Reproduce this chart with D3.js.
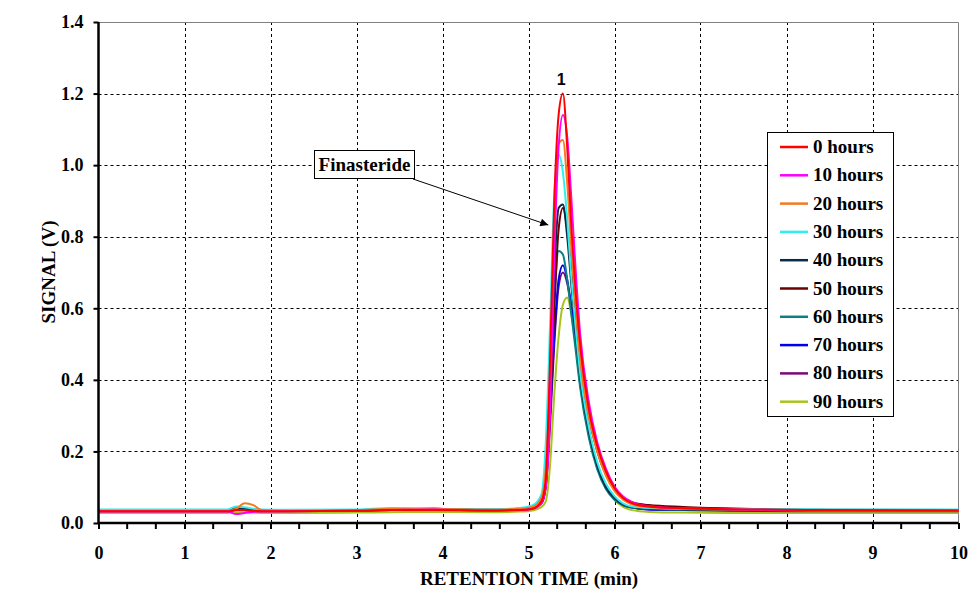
<!DOCTYPE html>
<html><head><meta charset="utf-8">
<script src="https://cdn.jsdelivr.net/npm/d3@7"></script>
<style>body{margin:0;background:#fff}svg{display:block}
svg text{font-family:"Liberation Serif","Times New Roman",serif;font-weight:bold;}
svg text.sans{font-family:"Liberation Sans",Arial,sans-serif;}
</style>
</head><body>
<svg id="c" width="977" height="601"></svg>
<script>
const times = [0, 1.5, 1.6, 1.7, 1.8, 1.9, 2.2, 3.0, 3.4, 3.9, 4.5, 4.9, 5.05, 5.15, 5.2, 5.25, 5.3, 5.35, 5.4, 5.45, 5.5, 5.55, 5.6, 5.7, 5.8, 5.9, 6.0, 6.1, 6.2, 6.4, 6.8, 7.5, 8.5, 10];
const seriesNames = ["0 hours","10 hours","20 hours","30 hours","40 hours","50 hours","60 hours","70 hours","80 hours","90 hours"];
const s0  = [0.033,0.033,0.036,0.036,0.034,0.033,0.033,0.034,0.036,0.036,0.035,0.036,0.040,0.060,0.120,0.450,0.900,1.140,1.200,1.050,0.820,0.640,0.500,0.320,0.215,0.145,0.098,0.070,0.056,0.046,0.041,0.038,0.036,0.035];
const s10 = [0.032,0.032,0.025,0.028,0.031,0.032,0.033,0.034,0.036,0.038,0.035,0.036,0.040,0.055,0.100,0.300,0.750,1.050,1.140,1.080,0.900,0.700,0.530,0.340,0.225,0.152,0.102,0.074,0.059,0.047,0.041,0.038,0.035,0.035];
const s20 = [0.034,0.034,0.040,0.055,0.050,0.036,0.034,0.036,0.040,0.040,0.037,0.040,0.045,0.070,0.150,0.400,0.850,1.060,1.070,0.950,0.760,0.600,0.460,0.300,0.200,0.132,0.090,0.065,0.052,0.044,0.040,0.037,0.035,0.035];
const s30 = [0.038,0.038,0.046,0.044,0.040,0.038,0.037,0.038,0.042,0.040,0.038,0.042,0.050,0.080,0.220,0.550,0.920,1.030,0.980,0.850,0.680,0.540,0.420,0.270,0.170,0.110,0.075,0.055,0.046,0.042,0.040,0.039,0.038,0.038];
const s40 = [0.036,0.036,0.040,0.040,0.037,0.036,0.036,0.036,0.038,0.040,0.037,0.040,0.045,0.060,0.150,0.380,0.700,0.880,0.890,0.800,0.660,0.530,0.410,0.260,0.160,0.100,0.070,0.052,0.045,0.040,0.038,0.037,0.036,0.036];
const s50 = [0.035,0.035,0.038,0.038,0.036,0.035,0.035,0.036,0.038,0.040,0.037,0.040,0.044,0.055,0.100,0.300,0.600,0.820,0.880,0.820,0.700,0.570,0.460,0.300,0.200,0.135,0.095,0.070,0.058,0.050,0.045,0.040,0.037,0.036];
const s60 = [0.035,0.035,0.042,0.040,0.037,0.035,0.035,0.036,0.038,0.039,0.036,0.040,0.045,0.070,0.170,0.380,0.620,0.760,0.750,0.680,0.580,0.480,0.380,0.240,0.150,0.095,0.065,0.050,0.043,0.039,0.037,0.036,0.035,0.035];
const s70 = [0.034,0.034,0.037,0.036,0.035,0.034,0.034,0.035,0.037,0.038,0.036,0.039,0.043,0.060,0.120,0.300,0.520,0.680,0.720,0.680,0.600,0.500,0.400,0.250,0.155,0.100,0.068,0.050,0.043,0.038,0.036,0.035,0.034,0.034];
const s80 = [0.033,0.033,0.036,0.036,0.034,0.033,0.033,0.034,0.036,0.037,0.035,0.038,0.042,0.055,0.100,0.270,0.500,0.660,0.700,0.670,0.600,0.500,0.410,0.260,0.160,0.105,0.070,0.052,0.044,0.038,0.036,0.034,0.033,0.033];
const s90 = [0.028,0.028,0.030,0.030,0.029,0.028,0.028,0.029,0.030,0.031,0.030,0.032,0.035,0.045,0.060,0.160,0.360,0.520,0.610,0.630,0.580,0.500,0.410,0.260,0.160,0.100,0.065,0.045,0.036,0.031,0.029,0.028,0.028,0.028];
const seriesValues = [s0,s10,s20,s30,s40,s50,s60,s70,s80,s90];
const seriesColors = ["#ff0000","#ff00ff","#f47a20","#33eeee","#0b2a4a","#6b0000","#0a8080","#0000ee","#7a0a7a","#a8c41c"];
const xTicks = [0,1,2,3,4,5,6,7,8,9,10];
const yTicks = [0,0.2,0.4,0.6,0.8,1.0,1.2,1.4];

const svg = d3.select("#c");
const L = 98.5, R = 958.5, T = 22, B = 523;
const x = d3.scaleLinear().domain([0,10]).range([L,R]);
const y = d3.scaleLinear().domain([0,1.4]).range([B,T]);

// gridlines
const g = svg.append("g");
g.selectAll("line.v").data(xTicks.filter(d=>d>0&&d<10)).enter().append("line")
  .attr("x1",d=>Math.round(x(d))+0.5).attr("x2",d=>Math.round(x(d))+0.5).attr("y1",T).attr("y2",B)
  .attr("stroke","#000").attr("stroke-width",1).attr("stroke-dasharray","3,3");
g.selectAll("line.h").data(yTicks.filter(d=>d>0&&d<1.4)).enter().append("line")
  .attr("y1",d=>Math.round(y(d))+0.5).attr("y2",d=>Math.round(y(d))+0.5).attr("x1",L).attr("x2",R)
  .attr("stroke","#000").attr("stroke-width",1).attr("stroke-dasharray","3,3");
svg.append("path").attr("d",`M${L},${T+0.5}H${R}V${B}`).attr("fill","none").attr("stroke","#808080").attr("stroke-width",1);

// series
const line = d3.line().x((d,i)=>x(times[i])).y(d=>y(d)).curve(d3.curveMonotoneX);
const order = [9,8,7,6,5,4,3,2,1,0];
svg.append("g").selectAll("path").data(order).enter().append("path")
  .attr("d",i=>line(seriesValues[i])).attr("fill","none")
  .attr("stroke",i=>seriesColors[i]).attr("stroke-width",2).attr("stroke-linejoin","round");

// axes
const xAxis = d3.axisBottom(x).tickValues(xTicks).tickFormat(d3.format("d")).tickSize(6).tickPadding(17);
const xa = svg.append("g").attr("transform",`translate(0,${B})`).call(xAxis);
const minor = d3.range(0,30).filter(i=>i%3!==0).map(i=>i/3);
xa.selectAll("line.minor").data(minor).enter().append("line").attr("class","minor")
  .attr("x1",d=>x(d)).attr("x2",d=>x(d)).attr("y1",0).attr("y2",6).attr("stroke","#000").attr("stroke-width",2);
const yAxis = d3.axisLeft(y).tickValues(yTicks).tickFormat(d3.format(".1f")).tickSize(5).tickPadding(10);
const ya = svg.append("g").attr("transform",`translate(${L},0)`).call(yAxis);
[xa,ya].forEach(a=>{
  a.attr("font-family",null).attr("font-size",null);
  a.select(".domain").attr("stroke","#000").attr("stroke-width",2.5).attr("d", a===xa ? `M${L},0H${R}` : `M0,${T}V${B}`);
  a.selectAll(".tick line").attr("stroke","#000").attr("stroke-width",2);
  a.selectAll("text").style("font-size","18px").attr("fill","#000");
});

// axis titles
svg.append("text").attr("x",529).attr("y",585).attr("text-anchor","middle").style("font-size","19px").text("RETENTION TIME (min)");
svg.append("text").attr("transform","translate(55,272) rotate(-90)").attr("text-anchor","middle").style("font-size","19px").text("SIGNAL (V)");

// peak label
svg.append("text").attr("class","sans").attr("x",x(5.38)).attr("y",85).attr("text-anchor","middle").style("font-size","16px").text("1");

// annotation
svg.append("defs").append("marker").attr("id","ah").attr("viewBox","0 0 10 10").attr("refX",10).attr("refY",5)
  .attr("markerWidth",11).attr("markerHeight",8).attr("markerUnits","userSpaceOnUse").attr("orient","auto")
  .append("path").attr("d","M0,0L10,5L0,10z").attr("fill","#000");
svg.append("line").attr("x1",413).attr("y1",179).attr("x2",x(5.3)-6).attr("y2",225)
  .attr("stroke","#000").attr("stroke-width",1).attr("marker-end","url(#ah)");
svg.append("rect").attr("x",314.5).attr("y",150.5).attr("width",100).attr("height",28).attr("fill","#fff").attr("stroke","#000");
svg.append("text").attr("x",364.5).attr("y",171).attr("text-anchor","middle").style("font-size","19px").text("Finasteride");

// legend
const lg = svg.append("g");
lg.append("rect").attr("x",767.5).attr("y",132.5).attr("width",126).attr("height",284).attr("fill","#fff").attr("stroke","#000");
const items = lg.selectAll("g").data(seriesNames).enter().append("g")
  .attr("transform",(d,i)=>`translate(0,${147+i*28.3})`);
items.append("line").attr("x1",780).attr("x2",808).attr("y1",0).attr("y2",0)
  .attr("stroke",(d,i)=>seriesColors[i]).attr("stroke-width",2.5);
items.append("text").attr("x",813).attr("y",6).style("font-size","19px").text(d=>d);
</script>
</body></html>
